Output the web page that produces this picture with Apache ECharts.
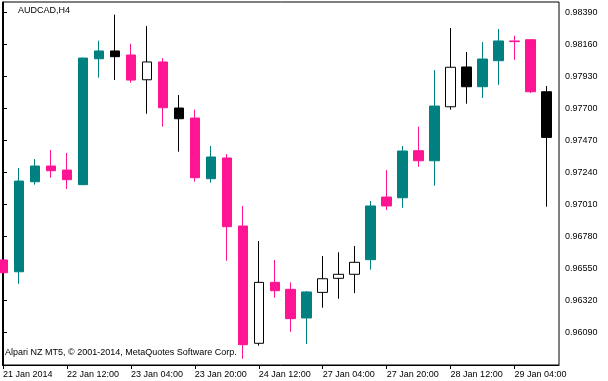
<!DOCTYPE html>
<html>
<head>
<meta charset="utf-8">
<script src="https://cdn.jsdelivr.net/npm/echarts@6/dist/echarts.min.js"></script>
<style>html,body{margin:0;padding:0;background:#fff}#c{width:608px;height:381px}</style>
</head>
<body>
<div id="c"></div>
<script>
// H4 bar times
const times = ['21 Jan 20:00','22 Jan 00:00','22 Jan 04:00','22 Jan 08:00','22 Jan 12:00','22 Jan 16:00','22 Jan 20:00',
  '23 Jan 00:00','23 Jan 04:00','23 Jan 08:00','23 Jan 12:00','23 Jan 16:00','23 Jan 20:00',
  '24 Jan 00:00','24 Jan 04:00','24 Jan 08:00','24 Jan 12:00','24 Jan 16:00','24 Jan 20:00',
  '27 Jan 00:00','27 Jan 04:00','27 Jan 08:00','27 Jan 12:00','27 Jan 16:00','27 Jan 20:00',
  '28 Jan 00:00','28 Jan 04:00','28 Jan 08:00','28 Jan 12:00','28 Jan 16:00','28 Jan 20:00',
  '29 Jan 00:00','29 Jan 04:00','29 Jan 08:00','29 Jan 12:00'];
const open  = [0.96608,0.96523,0.97170,0.97283,0.97254,0.97149,0.98054,0.98110,0.98081,0.97903,0.98031,0.97700,0.97628,
  0.97192,0.97341,0.96852,0.96009,0.96447,0.96397,0.96191,0.96375,0.96476,0.96505,0.96610,0.97060,0.97055,0.97393,
  0.97321,0.97709,0.97995,0.97853,0.98040,0.98182,0.98191,0.97817];
const close = [0.96516,0.97175,0.97283,0.97249,0.97185,0.98059,0.98110,0.98069,0.97901,0.98031,0.97702,0.97623,0.97199,
  0.97348,0.96847,0.95999,0.96447,0.96387,0.96186,0.96378,0.96473,0.96505,0.96591,0.96996,0.96996,0.97391,0.97321,
  0.97714,0.97993,0.97853,0.98052,0.98182,0.98177,0.97817,0.97489];
const low   = [0.96514,0.96437,0.97149,0.97199,0.97118,0.97147,0.97918,0.97901,0.97882,0.97659,0.97566,0.97386,0.97170,
  0.97163,0.96602,0.95898,0.95992,0.96337,0.96092,0.96004,0.96265,0.96329,0.96370,0.96538,0.96967,0.96983,0.97278,
  0.97142,0.97688,0.97731,0.97772,0.97867,0.98047,0.97808,0.96991];
const high  = [0.96611,0.97269,0.97333,0.97398,0.97377,0.98063,0.98184,0.98371,0.98162,0.98289,0.98059,0.97793,0.97688,
  0.97427,0.97369,0.96996,0.96744,0.96608,0.96447,0.96385,0.96636,0.96663,0.96708,0.97032,0.97254,0.97427,0.97566,
  0.97973,0.98275,0.98103,0.98174,0.98268,0.98220,0.98192,0.97858];
// colour state of each bar: up (teal), down (pink), flat (black / white)
const state = ['down','up','up','down','down','up','up','flat','down','flat','down','flat','down',
  'up','down','down','flat','down','down','up','flat','flat','flat','up','down','up','down',
  'up','flat','flat','up','up','down','down','flat'];
const xTickIndex  = [0,4,8,12,16,20,24,28,32];
const xTickLabels = ['21 Jan 2014','22 Jan 12:00','23 Jan 04:00','23 Jan 20:00','24 Jan 12:00','27 Jan 04:00','27 Jan 20:00','28 Jan 12:00','29 Jan 04:00'];
const yTicks = [0.96090,0.96320,0.96550,0.96780,0.97010,0.97240,0.97470,0.97700,0.97930,0.98160,0.98390];

const TEAL = '#008080', PINK = '#FF1493';
function styleFor(i){
  let c, b;
  if (state[i] === 'up') { c = TEAL; b = TEAL; }
  else if (state[i] === 'down') { c = PINK; b = PINK; }
  else { b = '#000'; c = close[i] >= open[i] ? '#fff' : '#000'; }
  return {color:c,color0:c,borderColor:b,borderColor0:b,borderWidth:1};
}
const data = times.map((t,i)=>({value:[i,open[i],close[i],low[i],high[i]], itemStyle: styleFor(i)}));
const FONT = 'Liberation Sans';
const chart = echarts.init(document.getElementById('c'), null, {renderer:'canvas'});
chart.setOption({
  animation:false,
  backgroundColor:'#fff',
  title:[
    {text:'AUDCAD,H4', left:18, top:6, padding:0, textStyle:{fontFamily:FONT,fontSize:9,fontWeight:'normal',color:'#000'}},
    {text:'Alpari NZ MT5, © 2001-2014, MetaQuotes Software Corp.', left:5, top:348, padding:0, textStyle:{fontFamily:FONT,fontSize:9,fontWeight:'normal',color:'#000'}}
  ],
  grid:{left:2, top:2, width:557, height:363, show:true, borderColor:'#000', borderWidth:1, backgroundColor:'#fff'},
  xAxis:{
    type:'value', min:-0.03125, max:34.78125,
    splitLine:{show:false},
    axisLine:{show:true,lineStyle:{color:'#000',width:1}},
    axisTick:{show:true,length:4,lineStyle:{color:'#000'},customValues:xTickIndex},
    axisLabel:{show:true,customValues:xTickIndex,align:'left',margin:5,fontFamily:FONT,fontSize:9,color:'#000',
      formatter:v=>{const k=xTickIndex.indexOf(Math.round(v));return k>=0?xTickLabels[k]:'';}}
  },
  yAxis:{
    type:'value', position:'right', min:0.95853, max:0.98462, scale:true,
    splitLine:{show:false},
    axisLine:{show:true,lineStyle:{color:'#000',width:1}},
    axisTick:{show:true,length:4,lineStyle:{color:'#000'},customValues:yTicks},
    axisLabel:{show:true,customValues:yTicks,margin:6,fontFamily:FONT,fontSize:9,color:'#000',
      formatter:v=>v.toFixed(5)}
  },
  series:[{
    type:'candlestick', barWidth:10, clip:true,
    encode:{x:0,y:[1,2,3,4]},
    data:data
  }]
});
</script>
</body>
</html>
